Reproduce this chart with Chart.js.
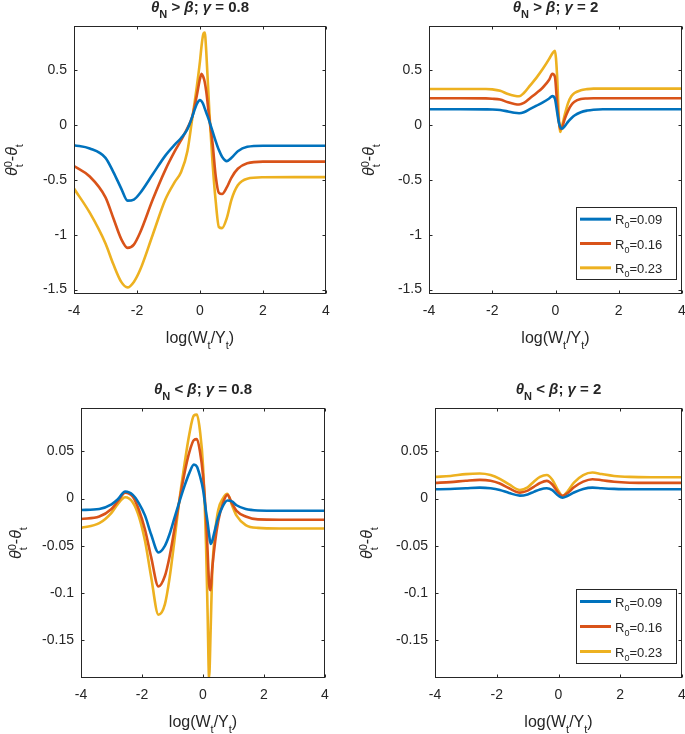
<!DOCTYPE html>
<html lang="en">
<head>
<meta charset="UTF-8">
<title>theta gap panels</title>
<script src="https://cdn.jsdelivr.net/npm/chart.js"></script>
<style>
  html, body { margin: 0; padding: 0; background: #fff; overflow: hidden; }
  canvas { position: absolute; left: 0; top: 0; }
</style>
</head>
<body>
<canvas id="tl" width="700" height="734"></canvas>
<canvas id="tr" width="700" height="734"></canvas>
<canvas id="bl" width="700" height="734"></canvas>
<canvas id="br" width="700" height="734"></canvas>
<script>
const FONT = '"Liberation Sans", Arial, Helvetica, sans-serif';
const INK = '#262626';

// series labels and colours (MATLAB defaults)
const r0Values = ['0.09', '0.16', '0.23'];
const colors = ['#0072BD', '#D95319', '#EDB120'];

const xTicks = [-4, -2, 0, 2, 4];
const yTicksTop = [-1.5, -1, -0.5, 0, 0.5];
const yTicksBottom = [-0.15, -0.1, -0.05, 0, 0.05];

// theta_N > beta, gamma = 0.8
const tlX   = [-4, -3.5, -3, -2.75, -2.5, -2.3, -2.1, -1.9, -1.5, -1.1, -0.8, -0.6, -0.4, -0.25, -0.1, 0, 0.05, 0.1, 0.15, 0.2, 0.3, 0.4, 0.5, 0.6, 0.7, 0.85, 1.0, 1.2, 1.5, 2, 3, 4];
const tlR09 = [-0.185, -0.215, -0.30, -0.43, -0.58, -0.69, -0.68, -0.62, -0.45, -0.28, -0.18, -0.12, -0.04, 0.07, 0.19, 0.225, 0.215, 0.19, 0.15, 0.11, 0.03, -0.06, -0.15, -0.23, -0.29, -0.33, -0.30, -0.24, -0.20, -0.19, -0.19, -0.19];
const tlR16 = [-0.375, -0.47, -0.66, -0.85, -1.04, -1.12, -1.09, -0.98, -0.68, -0.41, -0.24, -0.14, -0.03, 0.07, 0.27, 0.42, 0.465, 0.44, 0.39, 0.30, 0.05, -0.17, -0.47, -0.62, -0.63, -0.57, -0.48, -0.40, -0.35, -0.335, -0.335, -0.335];
const tlR23 = [-0.58, -0.80, -1.08, -1.27, -1.43, -1.48, -1.43, -1.32, -1.00, -0.68, -0.52, -0.43, -0.24, 0.05, 0.35, 0.58, 0.72, 0.82, 0.84, 0.66, 0.10, -0.35, -0.70, -0.93, -0.94, -0.85, -0.68, -0.55, -0.49, -0.477, -0.476, -0.476];

// theta_N > beta, gamma = 2
const trX   = [-4, -3, -2.2, -2, -1.75, -1.5, -1.3, -1.15, -1, -0.8, -0.6, -0.4, -0.2, -0.1, -0.02, 0.05, 0.1, 0.15, 0.2, 0.3, 0.4, 0.5, 0.6, 0.8, 1.0, 1.2, 1.5, 2, 3, 4];
const trR09 = [0.142, 0.142, 0.141, 0.14, 0.135, 0.122, 0.11, 0.106, 0.115, 0.145, 0.175, 0.205, 0.24, 0.262, 0.24, 0.12, 0.03, -0.02, -0.035, -0.01, 0.03, 0.06, 0.085, 0.115, 0.13, 0.138, 0.142, 0.142, 0.142, 0.142];
const trR16 = [0.242, 0.242, 0.241, 0.238, 0.23, 0.205, 0.19, 0.185, 0.2, 0.245, 0.29, 0.34, 0.41, 0.465, 0.44, 0.2, 0.04, -0.04, -0.03, 0.06, 0.13, 0.18, 0.21, 0.235, 0.24, 0.242, 0.242, 0.242, 0.242, 0.242];
const trR23 = [0.327, 0.327, 0.326, 0.323, 0.31, 0.28, 0.265, 0.26, 0.29, 0.36, 0.43, 0.51, 0.60, 0.65, 0.675, 0.45, 0.1, -0.065, -0.02, 0.1, 0.2, 0.26, 0.29, 0.315, 0.325, 0.33, 0.33, 0.33, 0.33, 0.33];

// theta_N < beta, gamma = 0.8
const blX   = [-4, -3.4, -3, -2.8, -2.55, -2.3, -2.1, -1.9, -1.7, -1.46, -1.25, -1.1, -0.95, -0.8, -0.6, -0.45, -0.3, -0.2, -0.1, 0, 0.1, 0.15, 0.2, 0.25, 0.3, 0.4, 0.5, 0.65, 0.8, 0.95, 1.1, 1.4, 1.8, 2.5, 4];
const blR09 = [-0.012, -0.011, -0.006, -0.001, 0.0075, 0.004, -0.005, -0.018, -0.038, -0.057, -0.05, -0.038, -0.022, -0.006, 0.014, 0.027, 0.036, 0.034, 0.024, 0.01, -0.014, -0.025, -0.038, -0.048, -0.045, -0.032, -0.02, -0.008, -0.002, -0.003, -0.007, -0.011, -0.0125, -0.0128, -0.0128];
const blR16 = [-0.0216, -0.019, -0.011, -0.003, 0.0064, 0.002, -0.012, -0.033, -0.062, -0.093, -0.082, -0.062, -0.035, -0.007, 0.028, 0.049, 0.062, 0.063, 0.05, 0.025, -0.02, -0.055, -0.09, -0.097, -0.075, -0.045, -0.024, -0.005, 0.004, -0.005, -0.013, -0.019, -0.022, -0.0223, -0.0223];
const blR23 = [-0.031, -0.026, -0.015, -0.006, 0.0015, -0.004, -0.019, -0.045, -0.083, -0.123, -0.112, -0.085, -0.048, -0.008, 0.038, 0.068, 0.088, 0.089, 0.072, 0.035, -0.05, -0.12, -0.19, -0.14, -0.08, -0.035, -0.012, 0.0, 0.005, -0.007, -0.018, -0.028, -0.031, -0.0316, -0.0316];

// theta_N < beta, gamma = 2
const brX   = [-4, -3.5, -3, -2.55, -2.2, -1.9, -1.6, -1.25, -1, -0.8, -0.6, -0.38, -0.2, 0, 0.13, 0.3, 0.5, 0.8, 1.1, 1.4, 1.8, 2.3, 3, 4];
const brR09 = [0.0099, 0.0102, 0.011, 0.0117, 0.011, 0.0092, 0.006, 0.0032, 0.0045, 0.0072, 0.0098, 0.011, 0.009, 0.003, 0.001, 0.003, 0.0065, 0.0103, 0.0117, 0.011, 0.0103, 0.0099, 0.0099, 0.0099];
const brR16 = [0.0167, 0.0175, 0.019, 0.0199, 0.019, 0.016, 0.011, 0.0064, 0.0085, 0.0125, 0.0165, 0.0188, 0.015, 0.006, 0.003, 0.006, 0.012, 0.018, 0.0206, 0.0195, 0.0178, 0.0169, 0.0167, 0.0167];
const brR23 = [0.023, 0.024, 0.026, 0.0266, 0.025, 0.021, 0.015, 0.0092, 0.012, 0.018, 0.023, 0.025, 0.02, 0.008, 0.0028, 0.008, 0.017, 0.025, 0.0277, 0.026, 0.024, 0.023, 0.0227, 0.0227];

const panels = [
  { id: 'tl', x: tlX, ys: [tlR09, tlR16, tlR23], yMin: -1.54, yMax: 0.9, yTicks: yTicksTop,
    area: { l: 74, t: 26, r: 326, b: 294 }, rel: ' > ', gamma: '0.8', ylabX: 17, legend: null },
  { id: 'tr', x: trX, ys: [trR09, trR16, trR23], yMin: -1.54, yMax: 0.9, yTicks: yTicksTop,
    area: { l: 429, t: 26, r: 682, b: 294 }, rel: ' > ', gamma: '2', ylabX: 374, legend: { l: 576, t: 207, r: 677, b: 280 } },
  { id: 'bl', x: blX, ys: [blR09, blR16, blR23], yMin: -0.19, yMax: 0.096, yTicks: yTicksBottom,
    area: { l: 81, t: 408, r: 325, b: 678 }, rel: ' < ', gamma: '0.8', ylabX: 21, legend: null },
  { id: 'br', x: brX, ys: [brR09, brR16, brR23], yMin: -0.19, yMax: 0.096, yTicks: yTicksBottom,
    area: { l: 435, t: 408, r: 682, b: 678 }, rel: ' < ', gamma: '2', ylabX: 372, legend: { l: 576, t: 589, r: 677, b: 664 } }
];

function f(size, style) { return (style ? style + ' ' : '') + size + 'px ' + FONT; }

// draws a run of text pieces; a piece with stack:true shares its x with the next one
function drawRich(ctx, segs, x, y, align) {
  let w = 0, held = 0;
  segs.forEach(s => {
    ctx.font = s.f;
    const sw = ctx.measureText(s.t).width;
    if (s.stack) held = sw; else { w += Math.max(sw, held); held = 0; }
  });
  let cx = align === 'left' ? x : x - w / 2;
  held = 0;
  ctx.textAlign = 'left';
  ctx.textBaseline = 'alphabetic';
  segs.forEach(s => {
    ctx.font = s.f;
    const sw = ctx.measureText(s.t).width;
    ctx.fillText(s.t, cx, y + (s.dy || 0));
    if (s.stack) held = sw; else { cx += Math.max(sw, held); held = 0; }
  });
}

const deco = {
  id: 'deco',
  afterDatasetsDraw(chart, args, o) {
    const ctx = chart.ctx, a = chart.chartArea;
    const xs = chart.scales.x, ys = chart.scales.y;
    ctx.save();
    ctx.strokeStyle = INK;
    ctx.fillStyle = INK;
    ctx.lineWidth = 1;
    const L = Math.round(a.left) + 0.5, R = Math.round(a.right) - 0.5;
    const T = Math.round(a.top) + 0.5, B = Math.round(a.bottom) - 0.5;
    ctx.strokeRect(L, T, R - L, B - T);
    ctx.beginPath();
    xs.ticks.forEach(t => {
      const px = Math.round(xs.getPixelForValue(t.value)) + 0.5;
      ctx.moveTo(px, B); ctx.lineTo(px, B - 3);
      ctx.moveTo(px, T); ctx.lineTo(px, T + 3);
    });
    ys.ticks.forEach(t => {
      const py = Math.round(ys.getPixelForValue(t.value)) + 0.5;
      ctx.moveTo(L, py); ctx.lineTo(L + 3, py);
      ctx.moveTo(R, py); ctx.lineTo(R - 3, py);
    });
    ctx.stroke();

    const cx = (a.left + a.right) / 2, cy = (a.top + a.bottom) / 2;
    // title
    drawRich(ctx, [
      { t: 'θ', f: f(15, 'italic bold') },
      { t: 'N', f: f(11, 'bold'), dy: 6 },
      { t: o.rel, f: f(15, 'bold') },
      { t: 'β', f: f(15, 'italic bold') },
      { t: '; ', f: f(15, 'bold') },
      { t: 'γ', f: f(15, 'italic bold') },
      { t: ' = ' + o.gamma, f: f(15, 'bold') }
    ], cx, a.top - 14, 'center');

    // x label
    drawRich(ctx, [
      { t: 'log(W', f: f(16) },
      { t: 't', f: f(11), dy: 6 },
      { t: '/Y', f: f(16) },
      { t: 't', f: f(11), dy: 6 },
      { t: ')', f: f(16) }
    ], cx, a.bottom + 48.5, 'center');

    // y label, rotated
    ctx.save();
    ctx.translate(o.ylabX, cy);
    ctx.rotate(-Math.PI / 2);
    drawRich(ctx, [
      { t: 'θ', f: f(16, 'italic') },
      { t: '0', f: f(11), dy: -5, stack: true },
      { t: 't', f: f(11), dy: 6 },
      { t: '-', f: f(16) },
      { t: 'θ', f: f(16, 'italic') },
      { t: 't', f: f(11), dy: 6 }
    ], 0, 0, 'center');
    ctx.restore();

    // legend box
    if (o.legend) {
      const g = o.legend;
      ctx.fillStyle = '#fff';
      ctx.fillRect(g.l, g.t, g.r - g.l, g.b - g.t);
      ctx.strokeStyle = INK;
      ctx.strokeRect(g.l + 0.5, g.t + 0.5, g.r - g.l - 1, g.b - g.t - 1);
      const step = (g.b - g.t) / 3;
      chart.data.datasets.forEach((ds, i) => {
        const ry = g.t + step * (i + 0.5);
        ctx.strokeStyle = ds.borderColor;
        ctx.lineWidth = 3;
        ctx.beginPath();
        ctx.moveTo(g.l + 4, ry); ctx.lineTo(g.l + 35, ry);
        ctx.stroke();
        ctx.fillStyle = INK;
        drawRich(ctx, [
          { t: 'R', f: f(13) },
          { t: '0', f: f(9), dy: 4 },
          { t: '=' + r0Values[i], f: f(13) }
        ], g.l + 39, ry + 5, 'left');
      });
    }
    ctx.restore();
  }
};

panels.forEach(p => {
  const datasets = p.ys.map((arr, i) => ({
    label: 'R0=' + r0Values[i],
    data: p.x.map((v, k) => ({ x: v, y: arr[k] })),
    borderColor: colors[i],
    borderWidth: 2.6,
    pointRadius: 0,
    fill: false,
    cubicInterpolationMode: 'monotone',
    clip: 0
  }));
  new Chart(document.getElementById(p.id), {
    type: 'line',
    data: { datasets },
    plugins: [deco],
    options: {
      responsive: false,
      animation: false,
      events: [],
      layout: { padding: { left: p.area.l - 40, right: 700 - p.area.r, top: p.area.t, bottom: 734 - p.area.b - 30 } },
      plugins: {
        legend: { display: false },
        tooltip: { enabled: false },
        deco: { rel: p.rel, gamma: p.gamma, ylabX: p.ylabX, legend: p.legend }
      },
      scales: {
        x: {
          type: 'linear', min: -4, max: 4,
          afterBuildTicks: s => { s.ticks = xTicks.map(v => ({ value: v })); },
          afterFit: s => { s.height = 30; },
          grid: { display: false, drawTicks: false },
          border: { display: false },
          ticks: { padding: 9, color: INK, font: { family: FONT, size: 14 }, maxRotation: 0, autoSkip: false, callback: v => String(v) }
        },
        y: {
          type: 'linear', min: p.yMin, max: p.yMax,
          afterBuildTicks: s => { s.ticks = p.yTicks.map(v => ({ value: v })); },
          afterFit: s => { s.width = 40; },
          grid: { display: false, drawTicks: false },
          border: { display: false },
          ticks: { padding: 7, color: INK, font: { family: FONT, size: 14 }, autoSkip: false, callback: v => String(v) }
        }
      }
    }
  });
});
</script>
</body>
</html>
